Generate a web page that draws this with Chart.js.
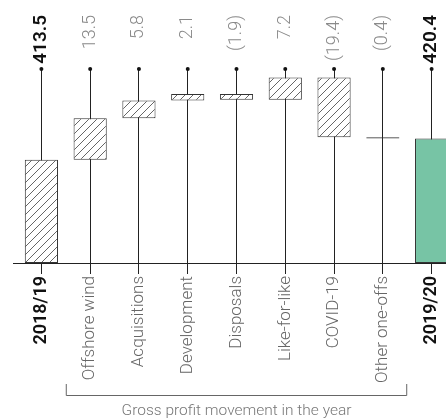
<!DOCTYPE html>
<html>
<head>
<meta charset="utf-8">
<script src="https://cdn.jsdelivr.net/npm/chart.js@4"></script>
<style>
  html, body { margin: 0; padding: 0; overflow: hidden; background: #fff; }
  #wrap { position: absolute; left: 0; top: 0; width: 456px; height: 419px; }
</style>
</head>
<body>
<div id="wrap"><canvas id="chart" width="456" height="419"></canvas></div>
<script>
const categories = ["2018/19", "Offshore wind", "Acquisitions", "Development", "Disposals",
  "Like-for-like", "COVID-19", "Other one-offs", "2019/20"]
const opening = 413.5
const movements = [13.5, 5.8, 2.1, -1.9, 7.2, -19.4, -0.4]
const closing = 420.4
const valueLabels = ["413.5", "13.5", "5.8", "2.1", "(1.9)", "7.2", "(19.4)", "(0.4)", "420.4"]
const axisMin = 380
const axisMax = 443

// floating bars: totals start at the axis, movements run from the running total
const ranges = [[axisMin, opening]]
let running = opening
for (const m of movements) {
  ranges.push([running, running + m])
  running += m
}
ranges.push([axisMin, closing])

const isTotal = (i) => i === 0 || i === categories.length - 1

function hatch() {
  const c = document.createElement("canvas")
  c.width = 8
  c.height = 8
  const g = c.getContext("2d")
  g.fillStyle = "#fff"
  g.fillRect(0, 0, 8, 8)
  g.strokeStyle = "#555"
  g.lineWidth = 0.9
  g.beginPath()
  g.moveTo(0, 8); g.lineTo(8, 0)
  g.moveTo(-2, 2); g.lineTo(2, -2)
  g.moveTo(6, 10); g.lineTo(10, 6)
  g.stroke()
  return g.createPattern(c, "repeat")
}

const pattern = hatch()
const colors = categories.map((_, i) => i === categories.length - 1 ? "#77c4a5" : pattern)
const borderWidths = categories.map((c) => c === "Other one-offs" ? 1.5 : 1)

const extras = {
  id: "extras",
  afterDraw(chart) {
    const { ctx, chartArea } = chart
    const x = chart.scales.x
    ctx.save()
    for (let i = 0; i < categories.length; i++) {
      const px = x.getPixelForTick(i)
      ctx.fillStyle = "#111"
      ctx.beginPath()
      ctx.arc(px, chartArea.top, 2, 0, Math.PI * 2)
      ctx.fill()

      ctx.save()
      ctx.translate(px, 15)
      ctx.rotate(-Math.PI / 2)
      ctx.textAlign = "right"
      ctx.textBaseline = "middle"
      ctx.fillStyle = isTotal(i) ? "#111" : "#8a8a8a"
      ctx.font = isTotal(i) ? "600 19px Roboto" : "300 18px Roboto"
      ctx.fillText(valueLabels[i], 0, 0)
      ctx.restore()
    }

    // baseline runs a little past the first category
    ctx.strokeStyle = "#222"
    ctx.lineWidth = 1
    ctx.beginPath()
    ctx.moveTo(13, chartArea.bottom + 0.5)
    ctx.lineTo(chartArea.left, chartArea.bottom + 0.5)
    ctx.stroke()

    // bracket under the movements
    const left = (x.getPixelForTick(0) + x.getPixelForTick(1)) / 2
    const right = (x.getPixelForTick(7) + x.getPixelForTick(8)) / 2
    ctx.strokeStyle = "#666"
    ctx.beginPath()
    ctx.moveTo(left + 0.5, 384)
    ctx.lineTo(left + 0.5, 395.5)
    ctx.lineTo(right - 0.5, 395.5)
    ctx.lineTo(right - 0.5, 384)
    ctx.stroke()

    ctx.fillStyle = "#777"
    ctx.font = "300 15.5px Roboto"
    ctx.textAlign = "center"
    ctx.textBaseline = "middle"
    ctx.fillText("Gross profit movement in the year", (left + right) / 2, 411)
    ctx.restore()
  }
}

new Chart(document.getElementById("chart"), {
  type: "bar",
  data: {
    labels: categories,
    datasets: [{
      data: ranges,
      backgroundColor: colors,
      borderColor: "#333",
      borderWidth: borderWidths,
      borderSkipped: false,
      barPercentage: 0.68,
      categoryPercentage: 1,
    }],
  },
  options: {
    responsive: false,
    animation: false,
    layout: { padding: { left: 17, right: 0, top: 69, bottom: 0 } },
    plugins: { legend: { display: false }, tooltip: { enabled: false } },
    scales: {
      x: {
        z: 1,
        afterFit(scale) { scale.height = 156 },
        grid: { offset: false, color: "#222", lineWidth: 1, tickLength: 11, tickColor: "#222" },
        border: { display: true, color: "#222" },
        ticks: {
          autoSkip: false,
          minRotation: 90,
          maxRotation: 90,
          padding: 2,
          color: (c) => isTotal(c.index) ? "#111" : "#666",
          font: (c) => isTotal(c.index)
            ? { family: "Roboto", size: 18, weight: "600" }
            : { family: "Roboto", size: 17, weight: "300" },
        },
      },
      y: { display: false, min: axisMin, max: axisMax },
    },
  },
  plugins: [extras],
})
</script>
</body>
</html>
